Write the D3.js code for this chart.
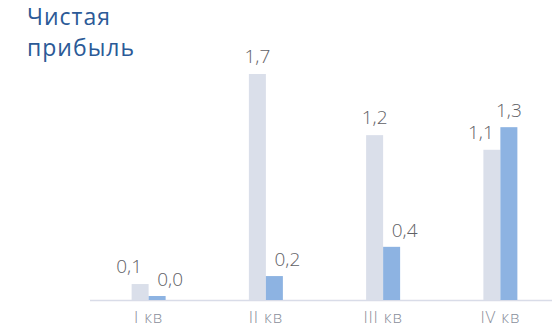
<!DOCTYPE html>
<html>
<head>
<meta charset="utf-8">
<script src="https://cdn.jsdelivr.net/npm/d3@7"></script>
<style>
  body { margin: 0; background: #fff; }
  svg { display: block; font-family: "Open Sans", "Noto Sans", sans-serif; }
</style>
</head>
<body>
<svg id="chart"></svg>
<script>
// Data
var quarters = ["I кв", "II кв", "III кв", "IV кв"];
var prevYear = [0.12, 1.70, 1.24, 1.13];   // light grey bars
var thisYear = [0.03, 0.18, 0.40, 1.30];   // blue bars
var titleLines = ["Чистая", "прибыль"];

var svgWidth = 552;
var svgHeight = 332;
var baseY = 300;

var svg = d3.select("#chart")
  .attr("width", svgWidth)
  .attr("height", svgHeight);

// Scales
var xScale = d3.scaleBand()
  .domain(quarters)
  .range([90, 559])
  .paddingInner(0)
  .paddingOuter(0);

var inner = d3.scaleBand()
  .domain(["prev", "cur"])
  .range([xScale.bandwidth() / 2 - 17, xScale.bandwidth() / 2 + 17]);

var yScale = d3.scaleLinear()
  .domain([0, 1.7])
  .range([baseY, baseY - 226]);

var fmt = function (v) { return d3.format(".1f")(v).replace(".", ","); };

var rows = quarters.map(function (q, i) {
  return { q: q, prev: prevYear[i], cur: thisYear[i] };
});

// Axis line
svg.append("line")
  .attr("x1", 90).attr("x2", svgWidth)
  .attr("y1", baseY + 0.5).attr("y2", baseY + 0.5)
  .attr("stroke", "#d9dce8")
  .attr("stroke-width", 1.5);

var groups = svg.selectAll(".grp")
  .data(rows)
  .enter()
  .append("g")
  .attr("class", "grp")
  .attr("transform", function (d) { return "translate(" + xScale(d.q) + ",0)"; });

// Grey bars
groups.append("rect")
  .attr("x", inner("prev"))
  .attr("y", function (d) { return yScale(d.prev); })
  .attr("width", inner.bandwidth())
  .attr("height", function (d) { return baseY - yScale(d.prev); })
  .attr("fill", "#dadfea");

// Blue bars
groups.append("rect")
  .attr("x", inner("cur"))
  .attr("y", function (d) { return yScale(d.cur); })
  .attr("width", inner.bandwidth())
  .attr("height", function (d) { return baseY - yScale(d.cur); })
  .attr("fill", "#8db3e2");

// Value labels, nudged sideways when the neighbour bar gets in the way
groups.append("text")
  .attr("x", function (d) {
    var cx = inner("prev") + inner.bandwidth() / 2;
    return (yScale(d.cur) - 20 < yScale(d.prev)) ? cx - 11 : cx;
  })
  .attr("y", function (d) { return yScale(d.prev) - 11; })
  .attr("text-anchor", "middle")
  .attr("font-size", "19px")
  .attr("font-weight", 300)
  .attr("fill", "#5f6166")
  .text(function (d) { return fmt(d.prev); });

groups.append("text")
  .attr("x", function (d) {
    var cx = inner("cur") + inner.bandwidth() / 2;
    return (yScale(d.prev) < yScale(d.cur)) ? cx + 13 : cx;
  })
  .attr("y", function (d) { return yScale(d.cur) - 10; })
  .attr("text-anchor", "middle")
  .attr("font-size", "19px")
  .attr("font-weight", 300)
  .attr("fill", "#5f6166")
  .text(function (d) { return fmt(d.cur); });

// Category labels
groups.append("text")
  .attr("x", xScale.bandwidth() / 2)
  .attr("y", 323)
  .attr("text-anchor", "middle")
  .attr("font-size", "17px")
  .attr("font-weight", 300)
  .attr("letter-spacing", "0.8px")
  .attr("fill", "#8a8f9c")
  .text(function (d) { return d.q; });

// Title
svg.append("text")
  .attr("x", 27)
  .attr("y", 25)
  .attr("font-size", "23px")
  .attr("letter-spacing", "1px")
  .attr("fill", "#2b5a97")
  .selectAll("tspan")
  .data(titleLines)
  .enter()
  .append("tspan")
  .attr("x", 27)
  .attr("dy", function (d, i) { return i === 0 ? 0 : 31; })
  .text(function (d) { return d; });
</script>
</body>
</html>
